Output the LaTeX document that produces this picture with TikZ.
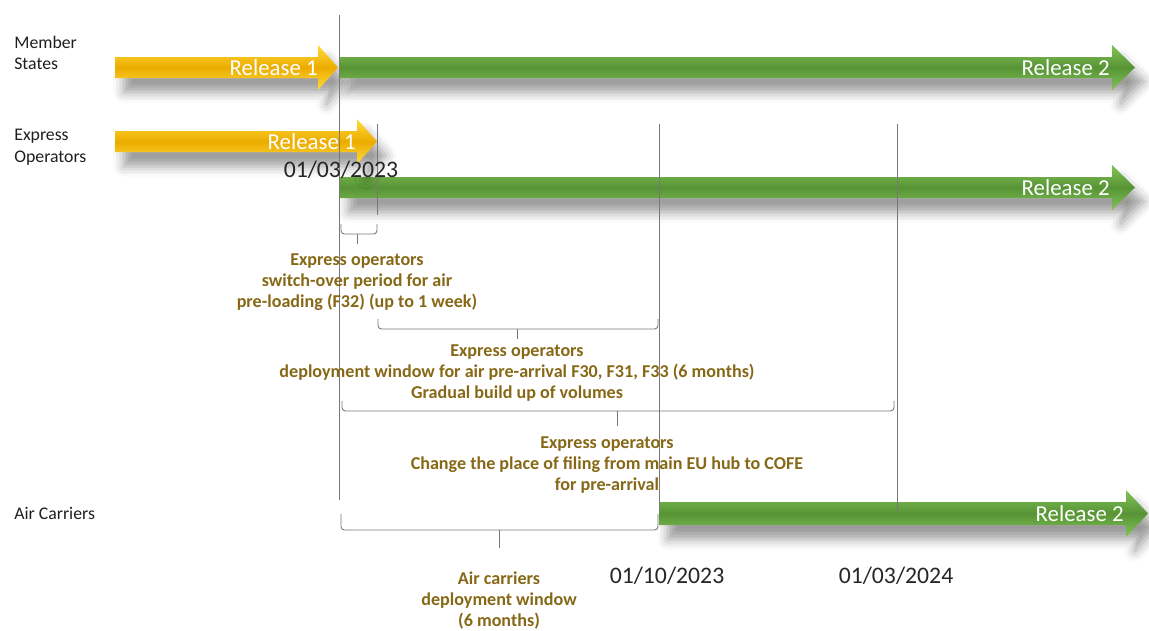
\documentclass[tikz,border=0pt]{standalone}
\usepackage{fontspec}
\setmainfont{Carlito}
\usetikzlibrary{shadows.blur}
\definecolor{labelgray}{RGB}{30,30,30}
\definecolor{notebrown}{RGB}{134,104,22}
\definecolor{guidegray}{RGB}{120,120,120}
\definecolor{goldlight}{RGB}{255,220,60}
\definecolor{golddark}{RGB}{236,172,0}
\definecolor{greenlight}{RGB}{128,196,86}
\definecolor{greendark}{RGB}{88,148,54}
\tikzset{
  releaseone/.style={draw=none, top color=goldlight, bottom color=goldlight, middle color=golddark,
    blur shadow={shadow xshift=5pt, shadow yshift=-8pt, shadow opacity=40, shadow blur radius=6pt}},
  releasetwo/.style={draw=none, top color=greenlight, bottom color=greenlight, middle color=greendark,
    blur shadow={shadow xshift=5pt, shadow yshift=-8pt, shadow opacity=40, shadow blur radius=6pt}},
  rowlabel/.style={anchor=west, align=left, inner sep=0pt, text=labelgray, font=\fontsize{10.1}{12.4}\selectfont},
  reltext/.style={anchor=east, inner sep=0pt, text=white, font=\fontsize{13}{15}\selectfont},
  datetext/.style={inner sep=0pt, text=black!85, font=\fontsize{13.5}{15}\selectfont},
  note/.style={anchor=north, align=center, inner sep=0pt, text=notebrown, font=\bfseries\fontsize{10.3}{12.2}\selectfont},
  guide/.style={draw=guidegray, line width=0.5pt},
  bracket/.style={draw=guidegray, line width=0.5pt, rounded corners=2pt}
}
\begin{document}
\begin{tikzpicture}[x=0.02cm, y=-0.02cm]
  \useasboundingbox (0,0) rectangle (1149,630);
  {
  % Row labels
  \node[rowlabel] (member) at (14,53) {Member\\States};%
  \node[rowlabel] (express) at (14,147) {Express\\Operators};%
  \node[rowlabel] (carriers) at (14,513) {Air Carriers};%

  % Drawing arrow Member States release 1
  \path[releaseone] (115,57) -- (318,57) -- (318,45) -- (338,67.5) -- (318,90) -- (318,78) -- (115,78) -- cycle;%
  % Drawing arrow Member States release 2
  \path[releasetwo] (340,57) -- (1112,57) -- (1112,45) -- (1135,67.5) -- (1112,90) -- (1112,78) -- (340,78) -- cycle;%
  \node[reltext] (msone) at (318,68) {Release 1};%
  \node[reltext] (mstwo) at (1110,68) {Release 2};%

  % Drawing arrow Express Operators release 2
  \path[releasetwo] (340,177) -- (1112,177) -- (1112,165) -- (1135,187.5) -- (1112,210) -- (1112,198) -- (340,198) -- cycle;%
  \node[reltext] (eotwo) at (1110,188) {Release 2};%
  % Drawing arrow Express Operators release 1
  \path[releaseone] (115,131) -- (357,131) -- (357,119) -- (377,141.5) -- (357,164) -- (357,152) -- (115,152) -- cycle;%
  \node[reltext] (eoone) at (356,142) {Release 1};%

  % Drawing arrow Air Carriers release 2
  \path[releasetwo] (659,502) -- (1126,502) -- (1126,490) -- (1148,513.5) -- (1126,537) -- (1126,525) -- (659,525) -- cycle;%
  \node[reltext] (actwo) at (1124,514) {Release 2};%

  % Drawing guide lines
  \draw[guide] (339,15) -- (339,500);%
  \draw[guide] (377,124) -- (377,215);%
  \draw[guide] (659,124) -- (659,512);%
  \draw[guide] (897,124) -- (897,512);%

  % Dates
  \node[datetext] (dstart) at (341,170) {01/03/2023};%
  \node[datetext] (doct) at (667,576) {01/10/2023};%
  \node[datetext] (dmar) at (896,576) {01/03/2024};%

  % Drawing bracket switch-over
  \draw[bracket] (341,224) -- (341,234) -- (357,234) -- (377,234) -- (377,224);%
  \draw[guide] (357,234) -- (357,244);%
  \node[note] (switchover) at (357,253) {Express operators\\switch-over period for air\\pre-loading (F32) (up to 1 week)};%

  % Drawing bracket deployment window
  \draw[bracket] (378,319) -- (378,329) -- (517,329) -- (658,329) -- (658,319);%
  \draw[guide] (517,329) -- (517,339);%
  \node[note] (deploy) at (517,344) {Express operators\\deployment window for air pre-arrival F30, F31, F33 (6 months)\\Gradual build up of volumes};%

  % Drawing bracket place of filing
  \draw[bracket] (342,401) -- (342,411) -- (617,411) -- (894,411) -- (894,401);%
  \draw[guide] (617,411) -- (617,426);%
  \node[note] (filing) at (607,436) {Express operators\\Change the place of filing from main EU hub to COFE\\for pre-arrival};%

  % Drawing bracket air carriers
  \draw[bracket] (341,514) -- (341,530) -- (499,530) -- (658,530) -- (658,514);%
  \draw[guide] (499,530) -- (499,548);%
  \node[note] (airwindow) at (499,571) {Air carriers\\deployment window\\(6 months)};%
  }
\end{tikzpicture}
\end{document}
